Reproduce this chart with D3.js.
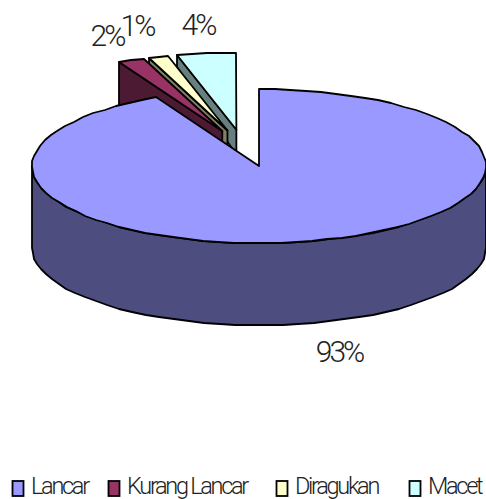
<!DOCTYPE html>
<html>
<head>
	<meta charset="utf-8">
	<title>Pie 3D</title>
	<style type="text/css">
		html, body { margin: 0; padding: 0; background: white; overflow: hidden; }
		svg { display: block; }
		text { font-family: Roboto, "Open Sans", sans-serif; font-weight: 300; fill: #222; }
	</style>
</head>
<body>
<svg id="chart"></svg>
<script src="https://d3js.org/d3.v7.min.js"></script>
<script type="text/javascript">
	var categories = ["Lancar", "Kurang Lancar", "Diragukan", "Macet"];
	var values = [92.5, 1.9, 1.4, 4.2];
	var topColors = ["#9999ff", "#993366", "#ffffcc", "#ccffff"];
	var wallColors = ["#4d4d80", "#4d1a33", "#808066", "#668080"];

	var width = 486, height = 499;
	var cx = 259, cy = 166, rx = 227, ry = 77, depth = 82;

	// how far the cut face of each slice drops: [at the rim, at the tip]
	var faceDrop = [[82, 82], [82, 82], [14, 22], [12, 25]];
	var labelPos = [[339, 362], [107, 46], [137, 36], [198, 35]];
	var legendX = [12, 108, 276, 409];

	var svg = d3.select("#chart").attr("width", width).attr("height", height);

	var arcs = d3.pie().sort(null).startAngle(0).endAngle(2 * Math.PI)(values);
	var color = d3.scaleOrdinal().domain(categories).range(topColors);
	var wall = d3.scaleOrdinal().domain(categories).range(wallColors);
	var line = d3.line();

	function pt(o, a) {
		return [Math.round(o[0] + rx * Math.sin(a)), Math.round(o[1] - ry * Math.cos(a))];
	}

	function rim(o, a0, a1) {
		var n = Math.max(2, Math.ceil((a1 - a0) / 0.07));
		return d3.range(n + 1).map(function(i) {
			return pt(o, a0 + (a1 - a0) * i / n);
		});
	}

	// pulled out slices, the direction is squeezed a bit like the original
	function origin(d) {
		if (d.index == 0) return [cx, cy];
		var mid = 2 * Math.PI - (d.startAngle + d.endAngle) / 2;
		var phi = 0.14 + 0.46 * mid;
		return [cx - 0.5 * rx * Math.sin(phi), cy - 0.48 * ry * Math.cos(phi)];
	}

	function draw(g, pts, fill) {
		g.append("path")
			.attr("d", line(pts) + "Z")
			.attr("fill", fill)
			.attr("stroke", "black")
			.attr("stroke-width", 1.8)
			.attr("stroke-linejoin", "round");
	}

	// back to front
	[3, 2, 1, 0].forEach(function(i) {
		var d = arcs[i];
		var o = origin(d);
		var g = svg.append("g").attr("class", "slice");
		var name = categories[i];

		if (i == 0) {
			var front = rim([o[0], o[1]], Math.PI / 2, 3 * Math.PI / 2);
			var under = rim([o[0], o[1] + depth], Math.PI / 2, 3 * Math.PI / 2).reverse();
			draw(g, front.concat(under), wall(name));
		} else {
			var outer = pt(o, d.startAngle);
			var drop = faceDrop[i];
			draw(g, [outer, [o[0], o[1]], [o[0], o[1] + drop[1]], [outer[0], outer[1] + drop[0]]], wall(name));
		}

		draw(g, [[o[0], o[1]]].concat(rim(o, d.startAngle, d.endAngle)), color(name));
	});

	svg.selectAll("text.pct")
		.data(arcs)
		.enter().append("text")
		.attr("class", "pct")
		.attr("x", function(d) { return labelPos[d.index][0]; })
		.attr("y", function(d) { return labelPos[d.index][1]; })
		.attr("text-anchor", "middle")
		.attr("font-size", 30)
		.attr("letter-spacing", -3)
		.text(function(d) { return Math.round(d.value) + "%"; });

	var legend = svg.selectAll("g.legend")
		.data(categories)
		.enter().append("g")
		.attr("class", "legend")
		.attr("transform", function(d, i) { return "translate(" + legendX[i] + ",0)"; });

	legend.append("rect")
		.attr("x", 0.5).attr("y", 481)
		.attr("width", 11).attr("height", 15)
		.attr("fill", function(d) { return color(d); })
		.attr("stroke", "black")
		.attr("stroke-width", 1.8);

	legend.append("text")
		.attr("x", 19)
		.attr("y", 494)
		.attr("font-size", 23.5)
		.attr("letter-spacing", -2.3)
		.text(function(d) { return d; });
</script>
</body>
</html>
